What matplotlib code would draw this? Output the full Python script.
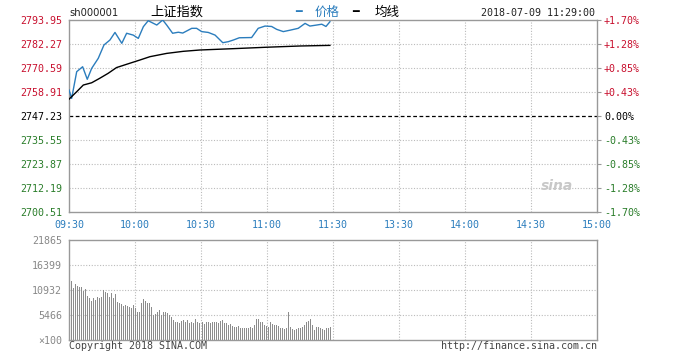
import matplotlib
matplotlib.use("Agg")
import matplotlib.pyplot as plt
import numpy as np

# intraday minute index (0 = 09:30, 120 = 11:30/13:00, 240 = 15:00)
price_t = [0, 1.2, 3.5, 6.2, 8.3, 10.3, 13.3, 15.9, 18.6, 20.9, 24, 26.2, 29.2,
           31.5, 33.8, 36, 39.9, 42.6, 44.4, 47.1, 49.7, 51.7, 55.8, 58, 60.3,
           63.3, 66.4, 69.9, 72.4, 74.7, 77.4, 82.3, 83.0, 86, 89.1, 92.1, 94.4,
           97.4, 100.5, 104.2, 107.3, 109.5, 112.6, 114.9, 116.8, 118.6]
price = [2759.9, 2755.8, 2768.8, 2771.2, 2765.1, 2770.4, 2775.3, 2781.8, 2784.2,
         2787.9, 2782.6, 2787.5, 2786.6, 2785.0, 2790.7, 2793.6, 2791.5, 2793.95,
         2791.5, 2787.5, 2788.0, 2787.6, 2789.9, 2789.9, 2788.3, 2787.9, 2786.6,
         2782.9, 2783.4, 2784.2, 2785.3, 2785.4, 2785.4, 2789.9, 2791.0, 2790.8,
         2789.4, 2788.3, 2789.0, 2789.9, 2792.3, 2791.0, 2791.5, 2791.9, 2790.8,
         2793.1]

avg_t = [0, 3.5, 6.5, 10.3, 14, 17.8, 21.6, 26.2, 32.3, 36.8, 44.4, 51.9, 59.5,
         74.7, 89.9, 105, 118.6]
avg = [2755.4, 2759.05, 2762.3, 2763.4, 2765.6, 2768.0, 2770.8, 2772.4, 2774.5,
       2776.1, 2777.7, 2778.7, 2779.35, 2780.0, 2780.7, 2781.3, 2781.6]

volume = [12900, 11300, 12250, 11800, 11500, 11660, 10790, 11080, 9620, 9110,
          8530, 9260, 8750, 9480, 9110, 9480, 10930, 10570, 10350, 9480, 10210,
          9110, 9990, 8380, 8020, 7800, 7440, 7650, 7440, 7290, 6930, 7650, 6930,
          6050, 6200, 8020, 8970, 8530, 8160, 8020, 7290, 5470, 5610, 6050, 6560,
          5470, 6050, 6200, 5980, 5470, 5100, 4370, 4010, 3860, 3650, 4160, 4370,
          4010, 4370, 3650, 3860, 3650, 4590, 4010, 3650, 4010, 3430, 3860, 3860,
          3650, 3860, 3860, 3860, 3650, 4160, 4370, 3650, 3650, 3280, 3500, 3060,
          2920, 2920, 3130, 2550, 2550, 2700, 2550, 2550, 2920, 2550, 3280, 4590,
          4520, 3860, 4010, 3280, 3060, 2920, 3860, 3500, 3280, 3280, 3130, 2700,
          2700, 2410, 2550, 6050, 2920, 2410, 2190, 2410, 2700, 2700, 2920, 3280,
          4010, 4160, 4520, 3280, 2190, 2920, 2920, 2700, 2330, 2190, 2550, 2700,
          2920]

prev_close = 2747.23
price_ticks = [2793.95, 2782.27, 2770.59, 2758.91, 2747.23, 2735.55, 2723.87, 2712.19, 2700.51]
pct_labels = ["+1.70%", "+1.28%", "+0.85%", "+0.43%", "0.00%", "-0.43%", "-0.85%", "-1.28%", "-1.70%"]
time_ticks = [0, 30, 60, 90, 120, 150, 180, 210, 240]
time_labels = ["09:30", "10:00", "10:30", "11:00", "11:30", "13:30", "14:00", "14:30", "15:00"]
vol_ticks = [0, 5466, 10932, 16399, 21865]
vol_labels = ["×100", "5466", "10932", "16399", "21865"]

RED = "#c8102e"
GREEN = "#2a7d2a"
BLUE = "#2b7dbd"
GRID = "#bbbbbb"
SPINE = "#999999"
MONO = "DejaVu Sans Mono"
FS = 7.2

W, H = 683, 357
fig = plt.figure(figsize=(W / 100, H / 100), dpi=100)
fig.patch.set_facecolor("white")

def box(l, t, r, b):
    return [l / W, 1 - b / H, (r - l) / W, (b - t) / H]

ax = fig.add_axes(box(69, 20, 597, 212))
axv = fig.add_axes(box(69, 240, 597, 340))

for a in (ax, axv):
    a.set_xlim(0, 240)
    for s in a.spines.values():
        s.set_color(SPINE)
        s.set_linewidth(1)
    a.set_xticks(time_ticks)
    for t in time_ticks[1:-1]:
        a.axvline(t, color=GRID, lw=0.8, ls=(0, (1, 1.5)), zorder=0)

# price panel
ax.set_ylim(price_ticks[-1], price_ticks[0])
ax.set_yticks(price_ticks)
ax.set_yticklabels(["%.2f" % v for v in price_ticks], fontsize=FS, family=MONO)
for v in price_ticks[1:-1]:
    if v == prev_close:
        ax.axhline(v, color="black", lw=0.9, ls=(0, (3, 2)), zorder=1)
    else:
        ax.axhline(v, color=GRID, lw=0.8, ls=(0, (1, 1.5)), zorder=0)
for lab, v in zip(ax.get_yticklabels(), price_ticks):
    lab.set_color(RED if v > prev_close else (GREEN if v < prev_close else "black"))
ax.tick_params(axis="y", length=0, pad=5)
ax.set_xticklabels(time_labels, fontsize=FS, family=MONO, color=BLUE)
ax.tick_params(axis="x", length=0, pad=6)

ax2 = ax.twinx()
ax2.set_ylim(ax.get_ylim())
ax2.set_yticks(price_ticks)
ax2.set_yticklabels(pct_labels, fontsize=FS, family=MONO)
for lab, v in zip(ax2.get_yticklabels(), price_ticks):
    lab.set_color(RED if v > prev_close else (GREEN if v < prev_close else "black"))
ax2.tick_params(axis="y", length=3, width=0.8, color=SPINE, pad=2)
for s in ax2.spines.values():
    s.set_visible(False)

ax.plot(price_t, price, color=BLUE, lw=1, zorder=3)
ax.plot(avg_t, avg, color="black", lw=1, zorder=3)

ax.text(0.955, 0.1, "sina", transform=ax.transAxes, fontsize=10, style="italic",
        fontweight="bold", color="#c8c8c8", ha="right", va="bottom")

# volume panel
axv.set_ylim(0, vol_ticks[-1])
vol_x = np.linspace(1, 119, len(volume))
axv.bar(vol_x, volume, width=0.45, color="#8c8c8c", zorder=2)
axv.set_yticks(vol_ticks)
axv.set_yticklabels(vol_labels, fontsize=FS, family=MONO, color="#888888")
for v in vol_ticks[1:-1]:
    axv.axhline(v, color=GRID, lw=0.8, ls=(0, (1, 1.5)), zorder=0)
axv.tick_params(axis="y", length=0, pad=5)
axv.set_xticklabels([])
axv.tick_params(axis="x", length=0)

# header / footer texts
fig.text(69 / W, 1 - 13 / H, "sh000001", fontsize=FS, family="DejaVu Sans", color="#222222", va="center")
fig.text(150 / W, 1 - 12 / H, "上证指数", fontsize=9.5, family=["Noto Sans CJK SC", "DejaVu Sans"],
         color="black", va="center")
fig.text(295 / W, 1 - 12 / H, "━", fontsize=8, family="DejaVu Sans", color=BLUE, va="center")
fig.text(315 / W, 1 - 12 / H, "价格", fontsize=9, family=["Noto Sans CJK SC", "DejaVu Sans"],
         color=BLUE, va="center")
fig.text(352 / W, 1 - 12 / H, "━", fontsize=8, family="DejaVu Sans", color="black", va="center")
fig.text(375 / W, 1 - 12 / H, "均线", fontsize=9, family=["Noto Sans CJK SC", "DejaVu Sans"],
         color="black", va="center")
fig.text(595 / W, 1 - 13 / H, "2018-07-09 11:29:00", fontsize=FS, family=MONO,
         color="#222222", va="center", ha="right")
fig.text(69 / W, 1 - 346 / H, "Copyright 2018 SINA.COM", fontsize=FS, family=MONO,
         color="#444444", va="center")
fig.text(597 / W, 1 - 346 / H, "http://finance.sina.com.cn", fontsize=FS, family=MONO,
         color="#444444", va="center", ha="right")

fig.savefig("out.png", dpi=100)
